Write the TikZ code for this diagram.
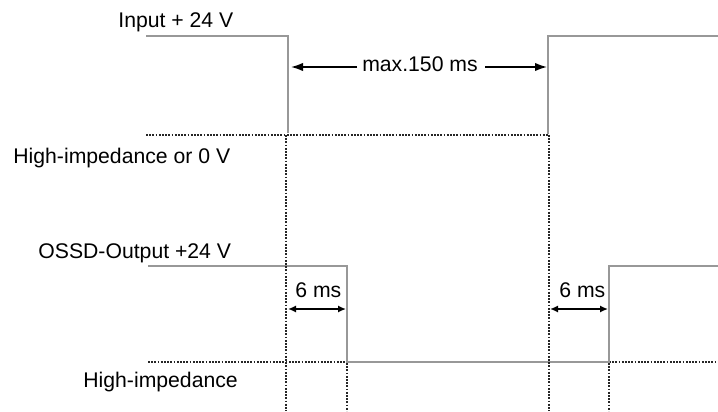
\documentclass[tikz,border=0pt]{standalone}
\usepackage{fontspec}
\setmainfont{Liberation Sans}
\usepackage{xcolor}
\usetikzlibrary{arrows.meta}
\definecolor{sigGray}{RGB}{152,152,152}

\begin{document}
\begin{tikzpicture}[x=0.5pt, y=-0.5pt,
		signal/.style={draw=sigGray, line width=1pt},
		guide/.style={draw=black!85, line width=0.9pt, dash pattern=on 0.9pt off 0.7pt},
		span/.style={draw=black, line width=0.8pt},
		lbl/.style={anchor=base west, inner sep=0pt, font=\fontsize{10.6}{13}\selectfont}]
		\useasboundingbox (0,0) rectangle (718,412);

		% edge positions and levels
		\def \xa {288}
		\def \xb {548}
		\def \xc {347}
		\def \xd {609}
		\def \yih {36}
		\def \yil {134}
		\def \yoh {266}
		\def \yol {362}
		\def \ybot {411}

		% labels
		\node[lbl] (inHigh) at (118,27) {Input + 24 V};
		\node[lbl] (inLow) at (13,163) {High-impedance or 0 V};
		\node[lbl] (outHigh) at (38,258) {OSSD-Output +24 V};
		\node[lbl] (outLow) at (83,387) {High-impedance};

		% input signal
		\coordinate (inStart) at (146,\yih);
		\coordinate (inFallT) at (\xa,\yih);
		\coordinate (inFallB) at (\xa,\yil-1);
		\coordinate (inRiseB) at (\xb,\yil);
		\coordinate (inRiseT) at (\xb,\yih);
		\coordinate (inEnd) at (718,\yih);
		\draw[guide] (146,\yil+1) -- (\xb,\yil+1);
		\draw[signal] (inStart) -- (inFallT) -- (inFallB);
		\draw[signal] (inRiseB) -- (inRiseT) -- (inEnd);

		% OSSD output
		\coordinate (outStart) at (148,\yoh);
		\coordinate (outFallT) at (\xc,\yoh);
		\coordinate (outFallB) at (\xc,\yol);
		\coordinate (outRiseB) at (\xd,\yol);
		\coordinate (outRiseT) at (\xd,\yoh);
		\coordinate (outEnd) at (718,\yoh);
		\draw[guide] (148,\yol) -- (outFallB);
		\draw[guide] (outRiseB) -- (718,\yol);
		\draw[signal] (outStart) -- (outFallT) -- (outFallB) -- (outRiseB) -- (outRiseT) -- (outEnd);

		% vertical guides
		\foreach \x/\y in {286/\yil, 549/\yil, \xc/\yol, \xd/\yol} {
			\draw[guide] (\x,\y+1) -- (\x,\ybot);
		}

		% max. 150 ms
		\node[lbl, anchor=base] (maxTime) at (420,71) {max.150 ms};
		\coordinate (maxLa) at (357,67);
		\coordinate (maxL) at (291,67);
		\coordinate (maxRa) at (485,67);
		\coordinate (maxR) at (547,67);
		\draw[span, -{Latex[length=6pt, width=4.2pt]}] (maxLa) -- (maxL);
		\draw[span, -{Latex[length=6pt, width=4.2pt]}] (maxRa) -- (maxR);

		% 6 ms
		\coordinate (offA) at (288,309);
		\coordinate (offB) at (346,309);
		\coordinate (onA) at (550,309);
		\coordinate (onB) at (608,309);
		\draw[span, {Latex[length=4pt, width=3.6pt]}-{Latex[length=4pt, width=3.6pt]}] (offA) -- (offB);
		\draw[span, {Latex[length=4pt, width=3.6pt]}-{Latex[length=4pt, width=3.6pt]}] (onA) -- (onB);
		\node[lbl] (offTime) at (295,297) {6 ms};
		\node[lbl] (onTime) at (559,297) {6 ms};
	\end{tikzpicture}
\end{document}
